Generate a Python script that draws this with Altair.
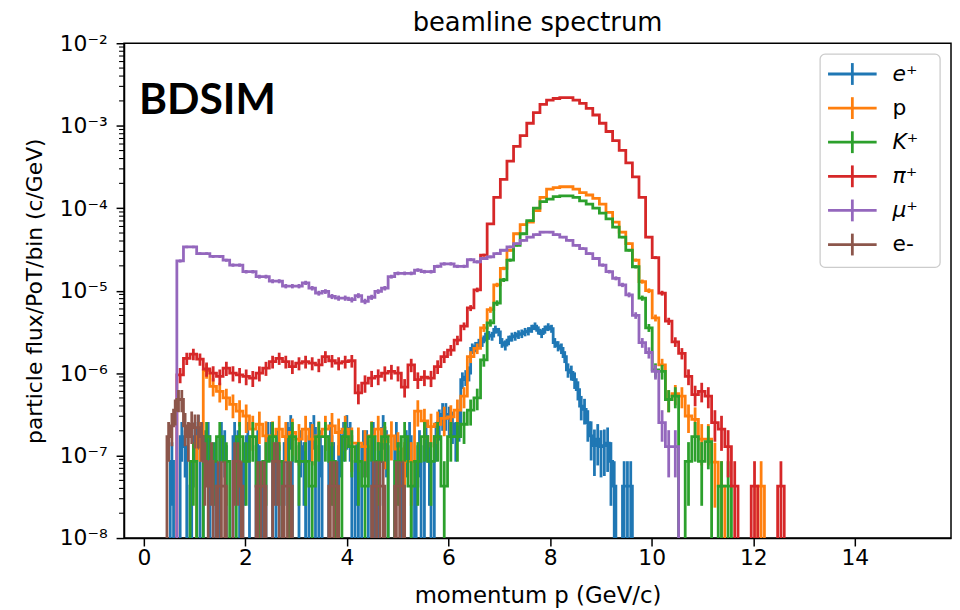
import math
import altair as alt
import pandas as pd

# ---------------- data (log10 of flux per bin, None = empty bin) ----------------
SPECIES = ["e+", "p", "K+", "pi+", "mu+", "e-"]
LABELS = ["e\u207a", "p", "K\u207a", "\u03c0\u207a", "\u03bc\u207a", "e-"]
ITALIC = [True, False, True, True, True, False]
COLORS = ["#1f77b4", "#ff7f0e", "#2ca02c", "#d62728", "#9467bd", "#8c564b"]

# e+ : bins of 0.065 GeV starting at 0.52
EP_START, EP_W = 0.52, 0.065
EP_LOG = [
    -7.07, None, None, -6.77, -6.89, None, -7.37, -6.77, -6.67, None,
    -6.89, -6.77, None, -7.07, None, -6.77, -6.89, None, None, -6.77,
    -6.89, None, -7.07, -6.77, None, None, -6.89, -7.37, None, -6.77,
    -6.77, None, -6.89, None, -7.07, -6.77, -6.67, None, None, -6.89,
    -7.07, None, -6.77, -6.67, None, -6.89, None, None, -6.77, -7.07,
    None, -6.89, -6.77, -6.67, -6.77, None, -7.07, None, -6.89, -6.89,
    None, -6.77, None, -7.07, -6.67, -6.89, None, None, -6.77, -7.07,
    None, -6.89, -6.77, None, -7.37, -6.89, None, -6.77, -7.07, None,
    -6.77, -6.59, -6.50, -6.50, -6.55, -6.62, -6.77, -6.60, -6.08, -6.05,
    -6.00, -5.70, -5.68, -5.64, -5.62, -5.56, -5.54, -5.55, -5.47, -5.50,
    -5.63, -5.66, -5.60, -5.56, -5.55, -5.53, -5.52, -5.50, -5.49, -5.46,
    -5.43, -5.48, -5.52, -5.47, -5.44, -5.46, -5.63, -5.67, -5.70, -5.80,
    -5.96, -5.99, -6.08, -6.20, -6.40, -6.44, -6.60, -6.76, -6.88, -6.80,
    -6.89, -6.88, -6.85, -7.07, -7.37, None, None, -7.37, -7.37, -7.37,
]

# p : bins of 0.13 GeV starting at 1.04
P_START, P_W = 1.04, 0.13
P_LOG = [
    -6.77, -5.97, -6.16, -6.22, -6.30, -6.38, -6.46, -6.52, -6.68, -6.62,
    -6.76, -6.76, -6.68, -6.77, -6.72, -6.80, -6.68, -6.80, -6.76, -6.68,
    -6.64, -6.72, -6.68, -6.85, -6.85, -6.89, -6.76, -6.68, -6.83, -6.76,
    -6.92, -7.07, -7.07, -6.46, -6.58, -6.65, -6.62, -6.55, -6.53, -6.45,
    -6.28, -5.80, -5.70, -5.45, -5.23, -4.93, -4.73, -4.51, -4.31, -4.20,
    -4.17, -4.03, -3.87, -3.77, -3.75, -3.74, -3.74, -3.77, -3.81, -3.84,
    -3.88, -3.95, -4.05, -4.17, -4.29, -4.43, -4.63, -4.89, -5.00, -5.33,
    -5.90, -6.32, -6.25, -6.28, -6.52, -6.56, -6.80, -6.80, -7.08, -7.37,
    None, None, None, None, None, -7.37,
]

# K+ : bins of 0.13 GeV starting at 0.65
K_START, K_W = 0.65, 0.13
K_LOG = [
    None, None, -7.07, None, -6.77, -7.07, -6.77, -7.07, None, -6.77,
    -7.07, -6.77, -7.37, -7.07, -6.77, -7.07, None, -6.77, -7.07, -7.07,
    -7.37, -6.77, -6.77, -7.07, None, -6.77, -6.89, -7.07, -7.37, -6.77,
    -7.07, -6.77, None, -7.07, -6.77, -7.37, -7.07, -6.77, -7.07, -6.77,
    -7.37, -6.77, -6.77, -6.62, -6.45, -6.30, -5.84, -5.39, -5.15, -4.87,
    -4.63, -4.45, -4.31, -4.15, -4.00, -3.92, -3.89, -3.86, -3.85, -3.85,
    -3.87, -3.91, -3.95, -4.00, -4.06, -4.13, -4.23, -4.35, -4.51, -4.71,
    -5.09, -5.45, -5.96, -5.98, -6.32, -6.28, None, -7.07, -6.77, -7.07,
    -6.83, None, -7.37, -7.37,
]

# pi+ : bins of 0.13 GeV starting at 0.65
PI_START, PI_W = 0.65, 0.13
PI_LOG = [
    -6.02, -5.82, -5.77, -5.83, -5.95, -6.00, -6.04, -5.94, -6.00, -6.02,
    -6.04, -6.06, -6.00, -5.94, -5.86, -5.82, -5.86, -5.92, -5.88, -5.86,
    -5.88, -5.90, -5.80, -5.85, -5.88, -5.86, -5.85, -6.24, -6.12, -6.06,
    -6.04, -6.00, -5.98, -6.00, -6.17, -5.90, -6.08, -6.05, -6.06, -5.92,
    -5.80, -5.72, -5.60, -5.43, -5.21, -4.99, -4.57, -4.19, -3.87, -3.65,
    -3.43, -3.25, -3.12, -2.97, -2.84, -2.74, -2.69, -2.67, -2.66, -2.66,
    -2.69, -2.73, -2.79, -2.87, -2.97, -3.07, -3.18, -3.30, -3.45, -3.62,
    -3.87, -4.35, -4.60, -5.03, -5.37, -5.62, -5.76, -6.04, -6.26, -6.22,
    -6.28, -6.60, -6.68, -6.89, -7.37, None, None, -7.37, None, None,
    None, -7.37,
]

# mu+ : bins of 0.13 GeV starting at 0.65
MU_START, MU_W = 0.65, 0.13
MU_LOG = [
    -4.64, -4.47, -4.47, -4.55, -4.55, -4.585, -4.585, -4.63, -4.69, -4.69,
    -4.77, -4.77, -4.83, -4.83, -4.885, -4.885, -4.945, -4.945, -4.945, -4.905,
    -4.97, -5.03, -5.01, -5.07, -5.09, -5.09, -5.11, -5.06, -5.13, -5.08,
    -5.01, -4.97, -4.83, -4.79, -4.79, -4.79, -4.75, -4.77, -4.77, -4.705,
    -4.675, -4.675, -4.705, -4.705, -4.625, -4.65, -4.61, -4.59, -4.55, -4.51,
    -4.47, -4.43, -4.39, -4.35, -4.32, -4.29, -4.29, -4.32, -4.35, -4.39,
    -4.45, -4.49, -4.55, -4.61, -4.69, -4.77, -4.85, -4.93, -5.05, -5.30,
    -5.63, -5.75, -5.98, -6.60, -6.89, -6.89,
]

# e- : bins of 0.065 GeV starting at 0.455
EM_START, EM_W = 0.455, 0.065
EM_LOG = [
    -6.77, -6.64, -6.45, -6.32, -6.32, -6.64, -6.77, -6.62, -6.66, -6.66,
    -6.77, -7.07, -7.37, -7.07, None, -7.37, -7.37, -7.37, None, None,
    -7.07, -7.07, -7.37, None, None, None, None, -7.37, -7.37, -7.37,
    None, None, -7.07, -7.07, None, -7.37, -7.37, -7.37, None, None,
    None, None, None, None, None, None, None, None, None, -7.37,
    -7.37, -7.37, None, None, None, None, None, None, None, None,
    None, None, -7.37, -7.37, -7.37, -7.37, None, None, None, -7.37,
    -7.37, -7.37,
]

SERIES = [
    (EP_START, EP_W, EP_LOG),
    (P_START, P_W, P_LOG),
    (K_START, K_W, K_LOG),
    (PI_START, PI_W, PI_LOG),
    (MU_START, MU_W, MU_LOG),
    (EM_START, EM_W, EM_LOG),
]

Y_TICK_EXP = [-8, -7, -6, -5, -4, -3, -2]
X_TICKS = [0, 2, 4, 6, 8, 10, 12, 14]

UNIT = 4.3e-8      # flux of a single entry (for Poisson error bars)
FLOOR = 1e-9       # drawing value for an empty bin (below the axis)

# ---------------- scales / axes ----------------
W, H = 834, 499
LW = 2.8
FONT = "DejaVu Sans"

xscale = alt.Scale(domain=[-0.3905, 15.894], nice=False, zero=False)
yscale = alt.Scale(type="log", domain=[1e-8, 1e-2], nice=False)

SUP = {"-": "\u207b", "0": "\u2070", "1": "\u00b9", "2": "\u00b2", "3": "\u00b3",
       "4": "\u2074", "5": "\u2075", "6": "\u2076", "7": "\u2077", "8": "\u2078", "9": "\u2079"}
expr = "''"
for e in Y_TICK_EXP:
    lab = "10" + "".join(SUP[c] for c in str(e))
    expr = f"round(log(datum.value)/LN10) == {e} ? '{lab}' : " + expr

xaxis = alt.Axis(values=X_TICKS, title="momentum p (GeV/c)", grid=False,
                 tickSize=8, tickWidth=1.5, labelPadding=2, labelFontSize=22,
                 titleFontSize=23, titleFontWeight="normal", titleY=58, titleBaseline="middle",
                 domainWidth=1.5, labelFont=FONT, titleFont=FONT)
yaxis = alt.Axis(values=[10.0 ** e for e in Y_TICK_EXP], labelExpr=expr,
                 title="particle flux/PoT/bin (c/GeV)", grid=False,
                 tickSize=8, tickWidth=1.5, labelPadding=9, labelFontSize=22,
                 titleFontSize=22, titleFontWeight="normal", titleX=-90, titleY=H / 2,
                 titleAngle=-90, titleAlign="center", titleBaseline="middle",
                 domainWidth=1.5, labelFont=FONT, titleFont=FONT)


def X(field):
    return alt.X(field, type="quantitative", scale=xscale, axis=xaxis)


def Y(field):
    return alt.Y(field, type="quantitative", scale=yscale, axis=yaxis)


layers = []

# minor log ticks
minor = [k * 10.0 ** e for e in Y_TICK_EXP[:-1] for k in range(2, 10)]
layers.append(
    alt.Chart(pd.DataFrame({"m": minor})).mark_rule(color="black", strokeWidth=1.1, clip=False)
    .encode(x=alt.value(-5), x2=alt.value(0), y=Y("m"))
)

for name, color, (start, w, logs) in zip(SPECIES, COLORS, SERIES):
    line_rows = [{"p": start, "f": FLOOR, "o": 0}]
    err_rows = []
    for i, v in enumerate(logs):
        f = FLOOR if v is None else 10.0 ** v
        line_rows.append({"p": start + i * w, "f": f, "o": i + 1})
        if v is not None:
            err = math.sqrt(f * UNIT)
            err_rows.append({"p": start + (i + 0.5) * w, "lo": max(f - err, FLOOR), "hi": f + err})
    n = len(logs)
    line_rows.append({"p": start + n * w, "f": FLOOR, "o": n + 1})

    layers.append(
        alt.Chart(pd.DataFrame(err_rows)).mark_rule(color=color, strokeWidth=LW, clip=True)
        .encode(x=X("p"), y=Y("lo"), y2="hi")
    )
    layers.append(
        alt.Chart(pd.DataFrame(line_rows)).mark_line(color=color, strokeWidth=LW, clip=True,
                                                     interpolate="step-after", strokeJoin="miter")
        .encode(x=X("p"), y=Y("f"), order="o:Q")
    )

# title and BDSIM label
one = pd.DataFrame({"t": ["beamline spectrum"]})
layers.append(
    alt.Chart(one).mark_text(font=FONT, fontSize=26, align="center", baseline="alphabetic", color="black")
    .encode(x=alt.value(W / 2), y=alt.value(-12), text="t:N")
)
bd = pd.DataFrame({"t": ["BDSIM"]})
layers.append(
    alt.Chart(bd).mark_text(font="Lato", fontSize=43, fontWeight="bold", align="left",
                            baseline="alphabetic", color="black")
    .encode(x=alt.value(15), y=alt.value(71), text="t:N")
)

# legend
leg = pd.DataFrame({"label": LABELS, "color": COLORS, "k": list(range(len(LABELS))),
                    "it": ITALIC})
layers.append(
    alt.Chart(pd.DataFrame({"a": [0]})).mark_rect(fill="white", fillOpacity=0.85, stroke="#cccccc",
                                                   strokeWidth=1.3, cornerRadius=5)
    .encode(x=alt.value(702), x2=alt.value(823), y=alt.value(11), y2=alt.value(226))
)
base = alt.Chart(leg).transform_calculate(ly="31 + 34.4*datum.k", ly0="20 + 34.4*datum.k",
                                          ly1="42 + 34.4*datum.k")
cscale = alt.Scale(domain=LABELS, range=COLORS)
layers.append(
    base.mark_rule(strokeWidth=LW).encode(
        x=alt.value(710), x2=alt.value(759), y=alt.Y("ly:Q", scale=None),
        color=alt.Color("label:N", scale=cscale, legend=None))
)
layers.append(
    base.mark_rule(strokeWidth=LW).encode(
        x=alt.value(734.5), y=alt.Y("ly0:Q", scale=None), y2="ly1:Q",
        color=alt.Color("label:N", scale=cscale, legend=None))
)
layers.append(
    base.transform_filter("datum.it").mark_text(font=FONT, fontSize=22, fontStyle="italic",
                                                 align="left", baseline="middle", color="black")
    .encode(x=alt.value(775), y=alt.Y("ly:Q", scale=None), text="label:N")
)
layers.append(
    base.transform_filter("!datum.it").mark_text(font=FONT, fontSize=22,
                                                  align="left", baseline="middle", color="black")
    .encode(x=alt.value(775), y=alt.Y("ly:Q", scale=None), text="label:N")
)

chart = (
    alt.layer(*layers)
    .properties(width=W, height=H, autosize=alt.AutoSizeParams(type="none"),
                padding={"left": 117, "top": 33, "right": 1, "bottom": 70})
    .configure_view(stroke="black", strokeWidth=1.5)
    .configure_axis(domainColor="black", tickColor="black", labelColor="black", titleColor="black")
)

chart.save("out.html", embed_options={"renderer": "svg", "actions": False})
